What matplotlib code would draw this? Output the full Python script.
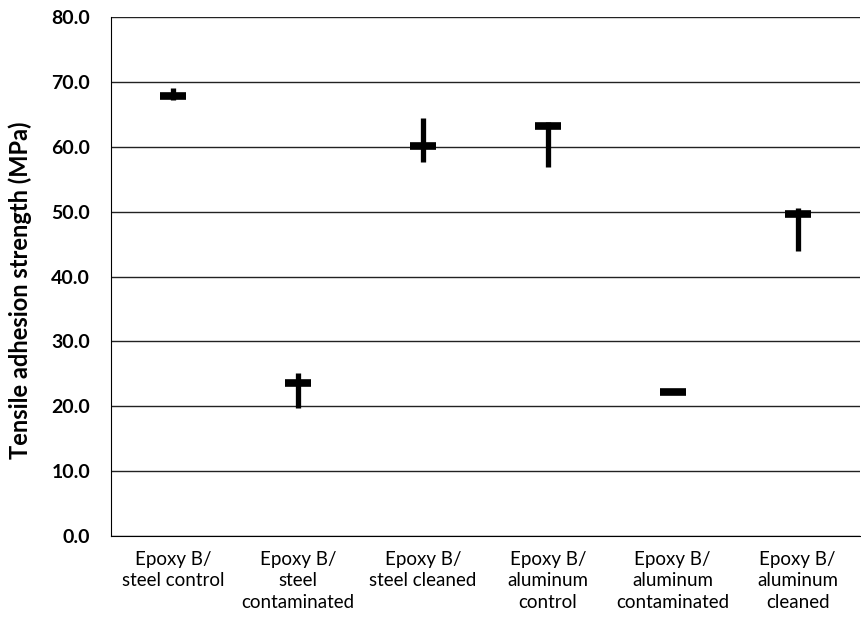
import matplotlib
matplotlib.use("Agg")
import matplotlib.pyplot as plt

categories = ["Epoxy B/\nsteel control", "Epoxy B/\nsteel\ncontaminated", "Epoxy B/\nsteel cleaned",
              "Epoxy B/\naluminum\ncontrol", "Epoxy B/\naluminum\ncontaminated", "Epoxy B/\naluminum\ncleaned"]
high = [69.0, 25.2, 64.4, 63.8, 22.4, 50.6]
low = [67.2, 19.7, 57.7, 56.9, 22.0, 44.0]
mean = [67.8, 23.6, 60.1, 63.2, 22.2, 49.7]
yticks = [0, 10, 20, 30, 40, 50, 60, 70, 80]

plt.rcParams["font.family"] = ["Lato", "DejaVu Sans"]

fig = plt.figure(figsize=(8.62, 6.32), dpi=100)
ax = fig.add_axes([111 / 862, 1 - 536 / 632, 749 / 862, 519 / 632])

x = list(range(len(categories)))
ax.vlines(x, low, high, color="black", lw=3.8, zorder=3)
ax.plot(x, mean, ls="none", marker="_", ms=19, mew=5.5, color="black", zorder=4)

ax.set_xlim(-0.5, 5.5)
ax.set_ylim(0, 80)
ax.set_yticks(yticks)
ax.set_yticklabels([f"{v:.1f}" for v in yticks], fontsize=14, fontweight="bold")
ax.set_xticks(x)
ax.set_xticklabels(categories, fontsize=13.5, va="top", linespacing=1.3)
ax.tick_params(axis="x", length=0, pad=11)
ax.tick_params(axis="y", length=0, pad=15)
ax.yaxis.grid(True, color="#222222", lw=1.0)
ax.set_axisbelow(True)
for s in ["top", "right"]:
    ax.spines[s].set_visible(False)
ax.spines["left"].set_color("black")
ax.spines["bottom"].set_color("black")
ax.set_ylabel("Tensile adhesion strength (MPa)", fontsize=17, fontweight="bold")
ax.yaxis.set_label_coords(-0.105, 0.474)

fig.savefig("out.png", dpi=100)
